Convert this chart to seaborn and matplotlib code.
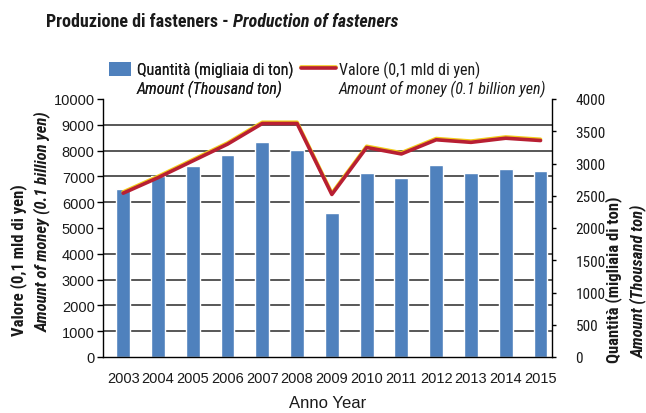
import numpy as np
import pandas as pd
import seaborn as sns
import matplotlib.pyplot as plt
from matplotlib.patches import Patch
from matplotlib.lines import Line2D
import matplotlib.patheffects as pe

# ---- data ----
years = ["2003", "2004", "2005", "2006", "2007", "2008", "2009",
         "2010", "2011", "2012", "2013", "2014", "2015"]
quantity = [2600, 2800, 2960, 3130, 3330, 3210, 2230, 2860, 2770, 2980, 2860, 2920, 2880]  # thousand ton (right axis)
value = [6350, 6950, 7600, 8250, 9050, 9050, 6300, 8120, 7870, 8420, 8320, 8480, 8390]     # 0.1 billion yen (left axis)
left_ticks = [0, 1000, 2000, 3000, 4000, 5000, 6000, 7000, 8000, 9000, 10000]
right_ticks = [0, 500, 1000, 1500, 2000, 2500, 3000, 3500, 4000]

df = pd.DataFrame({"year": years, "quantity": quantity, "value": value})

sns.set_theme(style="white")
plt.rcParams["font.family"] = ["Liberation Sans", "DejaVu Sans"]
NARROW = ["Roboto Condensed", "Archivo Narrow", "Liberation Sans Narrow", "DejaVu Sans"]
REG = ["Liberation Sans", "DejaVu Sans"]

BAR_C = "#4f81bd"
LINE_C = "#b81f33"
GRID_C = "#2a2a2a"
TXT_C = "#1a1a1a"

W, H = 646, 414
fig = plt.figure(figsize=(W / 100, H / 100), dpi=100)
fig.patch.set_facecolor("white")

def fx(px):
    return px / W

def fy(py):
    return 1 - py / H

ax_val = fig.add_axes([fx(103), fy(358), fx(552) - fx(103), fy(100) - fy(358)])
ax_qty = ax_val.twinx()

# bars on the right axis (behind)
sns.barplot(data=df, x="year", y="quantity", ax=ax_qty, color=BAR_C,
            saturation=1, width=0.4, zorder=2)
ax_qty.set_ylim(0, 4000)
ax_qty.set_yticks(right_ticks)
ax_qty.set_yticks(np.linspace(0, 4000, 11), minor=True)
ax_qty.grid(which="minor", axis="y", color=GRID_C, linewidth=1.1, zorder=0)
ax_qty.grid(which="major", axis="y", visible=False)
ax_qty.set_axisbelow(True)
ax_qty.tick_params(axis="y", which="minor", length=0)
ax_qty.tick_params(axis="y", which="major", length=3, width=1, color="black",
                   pad=14, labelsize=11, direction="out", right=True)
for lbl in ax_qty.get_yticklabels():
    lbl.set_family(NARROW)
    lbl.set_color(TXT_C)
ax_qty.set_ylabel("")
ax_qty.set_xlabel("")

# line on the left axis (in front)
ax_val.set_zorder(ax_qty.get_zorder() + 1)
ax_val.patch.set_visible(False)
line_fx = [pe.Stroke(linewidth=2.6, foreground="#f2cc1a", offset=(0, 0.9)), pe.Normal()]
sns.lineplot(data=df, x="year", y="value", ax=ax_val, color=LINE_C,
             linewidth=2.6, sort=False, path_effects=line_fx)
ax_val.set_ylim(0, 10000)
ax_val.set_yticks(left_ticks)
ax_val.tick_params(axis="y", length=4, width=1, color="black", pad=2,
                   labelsize=10.5, labelcolor=TXT_C, direction="out", left=True)
ax_val.set_xlim(-0.58, 12.33)
ax_val.tick_params(axis="x", length=0, pad=10, labelsize=10.5, labelcolor=TXT_C)
ax_qty.tick_params(axis="x", length=0)
ax_val.set_ylabel("")
ax_val.set_xlabel("Anno Year", fontsize=12, labelpad=7, family=REG, color=TXT_C)

for a in (ax_val, ax_qty):
    a.spines["top"].set_visible(False)
    for s in ("left", "right", "bottom"):
        a.spines[s].set_color("black")
        a.spines[s].set_linewidth(1.0)
ax_val.spines["right"].set_visible(False)
ax_qty.spines["left"].set_visible(False)
ax_qty.spines["bottom"].set_visible(False)
ax_val.grid(False)

# ---- title (bold + bold italic) ----
ttl = dict(fontsize=13, fontweight="bold", family=NARROW, fontstretch="condensed",
           va="center", ha="left", color=TXT_C)
t1 = fig.text(fx(46), fy(22), "Produzione di fasteners - ", **ttl)
fig.canvas.draw()
r = fig.canvas.get_renderer()
bb = t1.get_window_extent(r)
fig.text(bb.x1 / W, fy(22), "Production of fasteners", style="italic", **ttl)

# ---- legend ----
inv = Patch(visible=False)
lprop = {"family": NARROW, "size": 11.5, "stretch": "condensed"}
leg1 = fig.legend(handles=[Patch(facecolor=BAR_C, edgecolor="none"), inv],
                  labels=["Quantità (migliaia di ton)", "Amount (Thousand ton)"],
                  loc="upper left", bbox_to_anchor=(fx(109), fy(62)),
                  frameon=False, borderpad=0, borderaxespad=0,
                  handlelength=1.4, handleheight=1.0, handletextpad=0.35,
                  labelspacing=0.1, prop=lprop)
leg2 = fig.legend(handles=[Line2D([], [], color=LINE_C, linewidth=2.6, path_effects=line_fx), inv],
                  labels=["Valore (0,1 mld di yen)", "Amount of money (0.1 billion yen)"],
                  loc="upper left", bbox_to_anchor=(fx(301), fy(62)),
                  frameon=False, borderpad=0, borderaxespad=0,
                  handlelength=2.2, handleheight=1.0, handletextpad=0.15,
                  labelspacing=0.1, prop=lprop)
for lg in (leg1, leg2):
    lg.get_texts()[1].set_style("italic")
    for t in lg.get_texts():
        t.set_color(TXT_C)
fig.add_artist(leg1)

# ---- axis titles ----
lab = dict(rotation=90, va="bottom", ha="center", fontsize=12, family=NARROW,
           fontstretch="condensed", fontweight="bold", color=TXT_C)
fig.text(fx(19), fy(336), "Valore (0,1 mld di yen)", **lab)
fig.text(fx(42), fy(332), "Amount of money (0.1 billion yen)", style="italic", **lab)
fig.text(fx(614), fy(363), "Quantità (migliaia di ton)", **lab)
fig.text(fx(638), fy(358), "Amount (Thousand ton)", style="italic", **lab)

fig.savefig("out.png", dpi=100)
